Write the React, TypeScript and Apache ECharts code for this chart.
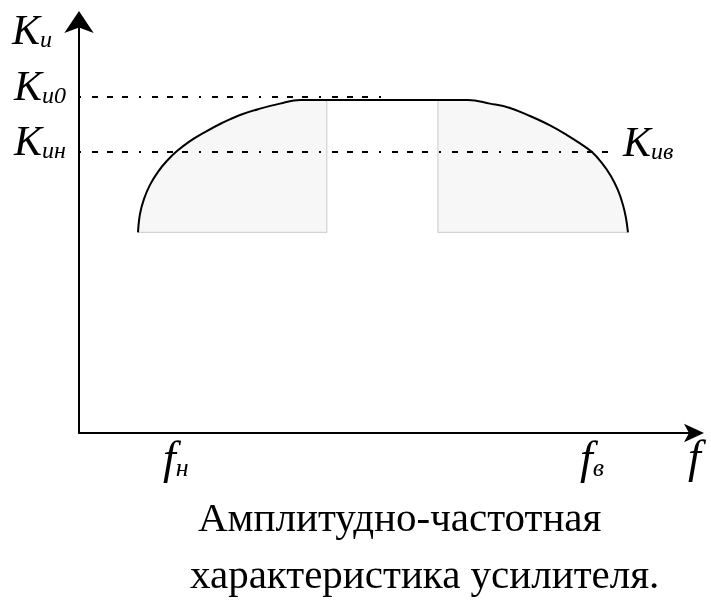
import { useEffect, useRef } from "react";
import * as echarts from "echarts";

// Frequency response curve K_u(f): points along the arc (relative units)
const curveX = [9.5, 9.82, 10.47, 11.43, 12.72, 14.17, 15.78, 17.87, 20.29, 23.03, 25.93, 29.15, 32.37, 35.59, 62.64, 66.18, 69.4, 72.62, 75.85, 78.58, 80.68, 82.61, 84.22, 85.67, 86.79, 87.6, 88.08, 88.4];
const curveY = [0.6, 0.655, 0.7, 0.742, 0.781, 0.814, 0.843, 0.873, 0.9, 0.927, 0.951, 0.97, 0.985, 0.996, 0.996, 0.985, 0.972, 0.948, 0.92, 0.891, 0.866, 0.84, 0.807, 0.768, 0.726, 0.682, 0.643, 0.6];

// Reference levels
const K_U0 = 1.005;
const K_UN = 0.84;
// Cut-off frequencies (where the curve meets K_uн)
const F_LOW = 15.6;
const F_HIGH = 82.6;
// Extent of the dotted level lines
const K_U0_END = 49.7;
const K_UN_END = 85.5;

// Shaded bands under the slopes
const bandLeft = [9.5, 39.9];
const bandRight = [57.8, 88.4];
const BAND_BASE = 0.6;
const BAND_TOP = 0.996;

const X_MAX = 100;
const Y_MAX = 1.25;

const SERIF = "Liberation Serif";

const kRich = {
  k: { fontFamily: SERIF, fontStyle: "italic", fontSize: 42, lineHeight: 42, color: "#000" },
  s: { fontFamily: SERIF, fontStyle: "italic", fontSize: 24, lineHeight: 30, verticalAlign: "bottom", color: "#000" },
};
const fRich = {
  f: { fontFamily: SERIF, fontStyle: "italic", fontSize: 46, lineHeight: 46, color: "#000" },
  s: { fontFamily: SERIF, fontStyle: "italic", fontSize: 26, lineHeight: 30, verticalAlign: "bottom", color: "#000" },
};

const DOT_DASH = [2, 11, 6, 9, 6, 9, 6, 11];

export default function App() {
  const ref = useRef<HTMLDivElement>(null);

  useEffect(() => {
    if (!ref.current) return;
    const chart = echarts.init(ref.current, null, { renderer: "svg" });
    const curve = curveX.map((x, i) => [x, curveY[i]]);

    const option: any = {
      animation: false,
      grid: { left: 79, right: 11, top: 15, bottom: 168 },
      xAxis: {
        type: "value",
        min: 0,
        max: X_MAX,
        name: "f",
        nameLocation: "end",
        nameGap: -12,
        nameTextStyle: {
          fontFamily: SERIF,
          fontStyle: "italic",
          fontSize: 46,
          lineHeight: 46,
          color: "#000",
          align: "left",
          verticalAlign: "top",
          padding: [0, 0, 0, 0],
        },
        axisLine: {
          show: true,
          onZero: false,
          symbol: ["none", "arrow"],
          symbolSize: [14, 20],
          symbolOffset: [0, 4],
          lineStyle: { color: "#000", width: 2 },
        },
        axisTick: { show: false },
        splitLine: { show: false },
        axisLabel: {
          customValues: [F_LOW, F_HIGH],
          margin: 1,
          fontFamily: SERIF,
          formatter: (v: number) => (v === F_LOW ? "{f|f}{s|н}" : "{f|f}{s|в}"),
          rich: fRich,
        },
      },
      yAxis: {
        type: "value",
        min: 0,
        max: Y_MAX,
        axisLine: {
          show: true,
          onZero: false,
          symbol: ["none", "arrow"],
          symbolSize: [22, 22],
          symbolOffset: [0, 4],
          lineStyle: { color: "#000", width: 2 },
        },
        axisTick: { show: false },
        splitLine: { show: false },
        axisLabel: {
          customValues: [K_U0, K_UN],
          margin: 13,
          padding: [0, 0, 22, 0],
          fontFamily: SERIF,
          formatter: (v: number) => (v === K_U0 ? "{k|K}{s|u0}" : "{k|K}{s|uн}"),
          rich: kRich,
        },
      },
      graphic: [
        {
          type: "text",
          x: 12,
          y: 9,
          style: { text: "{k|K}{s|u}", rich: kRich, fontFamily: SERIF },
        },
        {
          type: "text",
          x: 198,
          y: 496,
          style: {
            text: "Амплитудно-частотная",
            fontFamily: SERIF,
            fontSize: 41,
            fill: "#000",
          },
        },
        {
          type: "text",
          x: 190,
          y: 553,
          style: {
            text: "характеристика усилителя.",
            fontFamily: SERIF,
            fontSize: 41,
            fill: "#000",
          },
        },
      ],
      series: [
        {
          // faint fill of the two bands under the slopes
          type: "custom",
          silent: true,
          data: [[0, 0]],
          z: 1,
          renderItem: (_params: any, api: any) => {
            const inBand = (b: number[]) => curve.filter((p) => p[0] >= b[0] && p[0] <= b[1]);
            const leftPts = [[bandLeft[0], BAND_BASE], ...inBand(bandLeft), [bandLeft[1], BAND_TOP], [bandLeft[1], BAND_BASE]].map((p) => api.coord(p));
            const rightPts = [[bandRight[0], BAND_BASE], [bandRight[0], BAND_TOP], ...inBand(bandRight), [bandRight[1], BAND_BASE]].map((p) => api.coord(p));
            return {
              type: "group",
              children: [
                { type: "polygon", shape: { points: leftPts }, style: { fill: "#f7f7f7" } },
                { type: "polygon", shape: { points: rightPts }, style: { fill: "#f7f7f7" } },
              ],
            };
          },
        },
        {
          type: "line",
          data: [[bandLeft[0], BAND_BASE], [bandLeft[1], BAND_BASE], [bandLeft[1], BAND_TOP]],
          symbol: "none",
          lineStyle: { color: "#d2d2d2", width: 1.2 },
          z: 2,
        },
        {
          type: "line",
          data: [[bandRight[0], BAND_TOP], [bandRight[0], BAND_BASE], [bandRight[1], BAND_BASE]],
          symbol: "none",
          lineStyle: { color: "#d2d2d2", width: 1.2 },
          z: 2,
        },
        {
          type: "line",
          data: [[0, K_U0], [K_U0_END, K_U0]],
          symbol: "none",
          lineStyle: { color: "#000", width: 2, type: DOT_DASH },
          z: 3,
        },
        {
          type: "line",
          data: [[0, K_UN], [K_UN_END, K_UN]],
          symbol: "none",
          lineStyle: { color: "#000", width: 2, type: DOT_DASH },
          endLabel: {
            show: true,
            distance: 13,
            offset: [0, -10],
            fontFamily: SERIF,
            formatter: () => "{k|K}{s|uв}",
            rich: kRich,
          },
          z: 3,
        },
        {
          type: "line",
          data: curve,
          symbol: "none",
          smooth: 0.4,
          lineStyle: { color: "#000", width: 2 },
          z: 4,
        },
      ],
    };

    chart.setOption(option);
    return () => chart.dispose();
  }, []);

  return (
    <div
      ref={ref}
      style={{ position: "fixed", left: 0, top: 0, width: 711, height: 601 }}
    />
  );
}
